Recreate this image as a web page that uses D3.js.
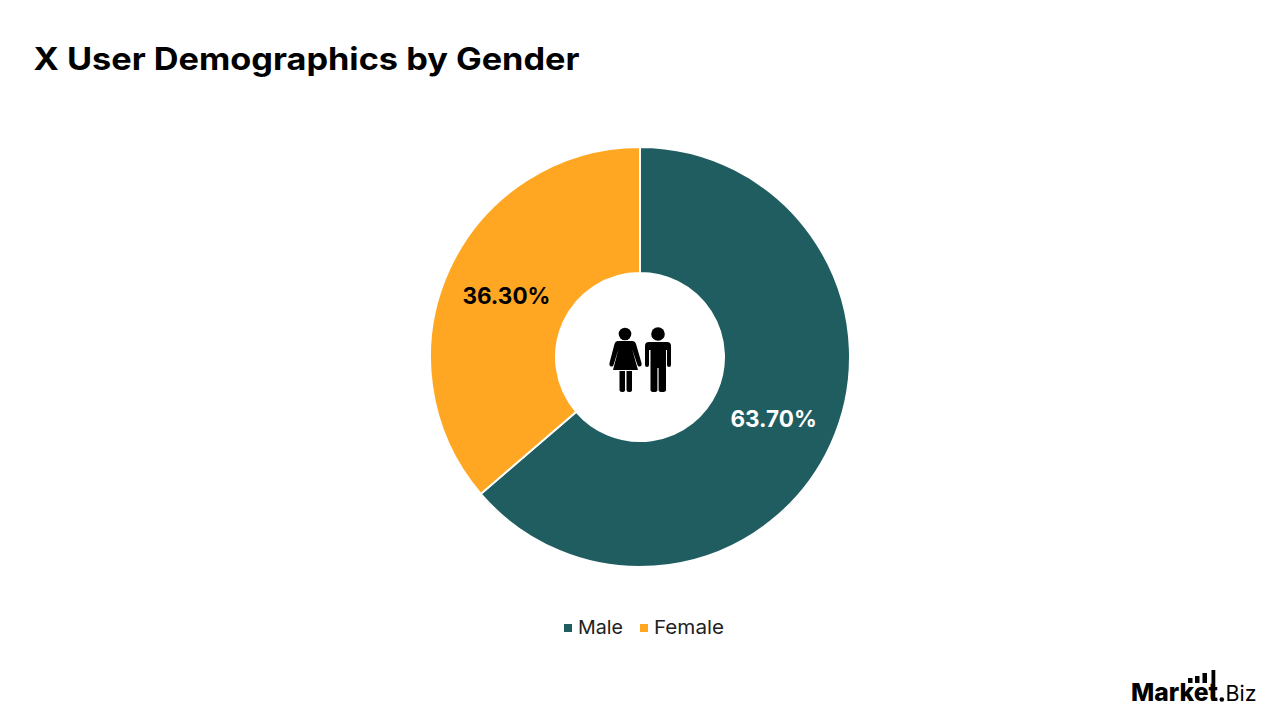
<!DOCTYPE html>
<html>
<head>
<meta charset="utf-8">
<script src="https://cdn.jsdelivr.net/npm/d3@7"></script>
<style>
  html, body { margin: 0; padding: 0; background: #fff; }
  text { font-family: Inter, "Open Sans", sans-serif; }
</style>
</head>
<body>
<div id="chart"></div>
<script>
const categories = ["Male", "Female"];
const shares = [63.7, 36.3];
const titleText = "X User Demographics by Gender";

const width = 1280, height = 720;
const cx = 640, cy = 357, outerR = 210, innerR = 84;

const color = d3.scaleOrdinal().domain(categories).range(["#1f5d61", "#ffa722"]);

const svg = d3.select("#chart").append("svg")
    .attr("width", width)
    .attr("height", height)
    .attr("viewBox", `0 0 ${width} ${height}`)
    .style("display", "block");

// Title
svg.append("text")
    .attr("x", 33.5)
    .attr("y", 70)
    .attr("font-size", 31)
    .attr("font-weight", 700)
    .attr("fill", "#000")
    .attr("textLength", 546)
    .attr("lengthAdjust", "spacingAndGlyphs")
    .text(titleText);

// Donut
const pie = d3.pie().sort(null).value(d => d.value);
const arc = d3.arc().innerRadius(innerR).outerRadius(outerR);
const rows = categories.map((c, i) => ({ name: c, value: shares[i] }));

const donut = svg.append("g").attr("transform", `translate(${cx}, ${cy})`);

donut.selectAll("path")
    .data(pie(rows))
    .join("path")
    .attr("d", arc)
    .attr("fill", d => color(d.data.name))
    .attr("stroke", "#fff")
    .attr("stroke-width", 2);

// Value labels sit on the arc middle
donut.selectAll(".value-label")
    .data(pie(rows))
    .join("text")
    .attr("class", "value-label")
    .attr("x", d => arc.centroid(d)[0])
    .attr("y", d => arc.centroid(d)[1] + 8.5)
    .attr("text-anchor", "middle")
    .attr("font-size", 22.5)
    .attr("font-weight", 700)
    .attr("fill", d => d.data.name === "Male" ? "#fff" : "#000")
    .text(d => d.data.value.toFixed(2) + "%");

// Icon in the hole
const icon = svg.append("g").attr("fill", "#000");
icon.append("circle").attr("cx", 625).attr("cy", 334).attr("r", 6.3);
icon.append("path").attr("d", "M618 341 H632 Q635 341 636 344 L641.5 363 Q642 366 640 366.5 Q638 367 637.5 365 L632 349 L638 370 H613 L618.5 349 L613.5 365 Q613 367 611 366.5 Q609 366 609.5 363 L614.5 344 Q615.5 341 618 341 Z");
icon.append("path").attr("d", "M619.5 371 H625 V390 Q625 392 622 392 Q619.5 392 619.5 390 Z M626.5 371 H632 V390 Q632 392 629 392 Q626.5 392 626.5 390 Z");
icon.append("circle").attr("cx", 658).attr("cy", 334).attr("r", 6.8);
icon.append("path").attr("d", "M649 342 H667 Q671 342 671 346 V365 Q671 367 669 367 Q667 367 667 365 V350 H666 V390 Q666 392 662 392 Q658.6 392 658.6 390 V368 H657.4 V390 Q657.4 392 654 392 Q650.5 392 650.5 390 V350 H649 V365 Q649 367 647 367 Q645 367 645 365 V346 Q645 342 649 342 Z");

// Legend
const legendX = [564, 640];
const legendTextWidth = [45, 70];
const legend = svg.append("g");
legend.selectAll("rect")
    .data(categories)
    .join("rect")
    .attr("x", (d, i) => legendX[i])
    .attr("y", 624)
    .attr("width", 8)
    .attr("height", 8)
    .attr("fill", d => color(d));
legend.selectAll("text")
    .data(categories)
    .join("text")
    .attr("x", (d, i) => legendX[i] + 14)
    .attr("y", 634)
    .attr("font-size", 19)
    .attr("fill", "#222")
    .attr("textLength", (d, i) => legendTextWidth[i])
    .attr("lengthAdjust", "spacingAndGlyphs")
    .text(d => d);

// Logo bottom right
const logo = svg.append("g");
logo.append("text")
    .attr("x", 1131)
    .attr("y", 701)
    .attr("font-size", 25)
    .attr("font-weight", 800)
    .attr("fill", "#000")
    .attr("textLength", 87)
    .attr("lengthAdjust", "spacingAndGlyphs")
    .text("Market");
logo.append("circle").attr("cx", 1221.8).attr("cy", 699.5).attr("r", 2.3);
logo.append("text")
    .attr("x", 1225.5)
    .attr("y", 701)
    .attr("font-size", 21)
    .attr("font-weight", 400)
    .attr("fill", "#000")
    .attr("textLength", 31)
    .attr("lengthAdjust", "spacingAndGlyphs")
    .text("Biz");
logo.append("path").attr("d", "M1188 678 h4.5 v5 h-4.5 Z M1195 676 h4.5 v7 h-4.5 Z M1202.5 673 h4.5 v10 h-4.5 Z M1211.5 670 h3.8 v31 h-3.8 Z");
</script>
</body>
</html>
